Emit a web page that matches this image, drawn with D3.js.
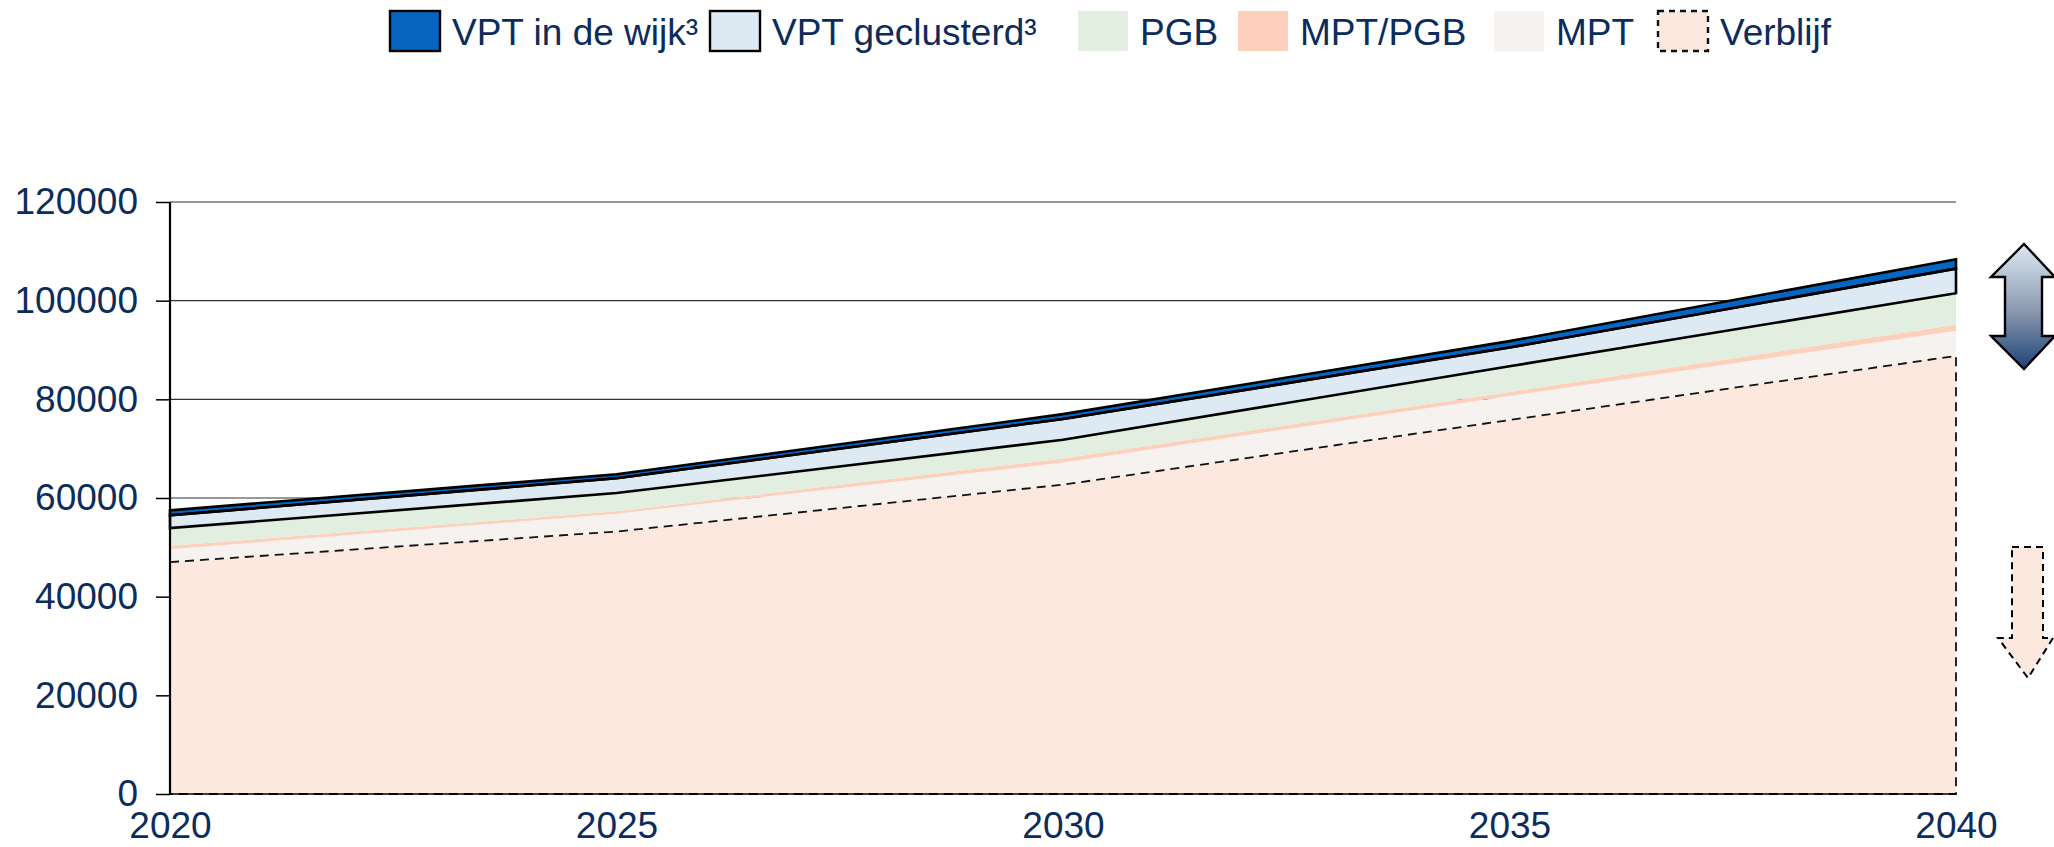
<!doctype html>
<meta charset="utf-8">

<style>
 body { margin: 0; background: #fff; }
 svg text {
     font-family: "Liberation Sans", Arial, sans-serif;
     font-size: 37px;
     fill: #0c2c5c;
 }
 .grid line {
     stroke: #333;
     stroke-width: 1.2px;
 }
</style>

<svg width="2054" height="847"></svg>

<script src="https://d3js.org/d3.v7.min.js"></script>
<script>
 // Data, one value per year
 var years = [2020, 2025, 2030, 2035, 2040];
 var verblijf      = [47000, 53200, 62700, 75800, 88800];
 var mpt           = [2600, 3600, 4500, 4900, 5100];
 var mptPgb        = [700, 500, 800, 800, 1200];
 var pgb           = [3600, 3700, 3800, 5200, 6400];
 var vptGeclusterd = [2600, 3000, 4200, 3800, 5000];
 var vptWijk       = [1000, 800, 1000, 1300, 1900];
 var yTicks = [0, 20000, 40000, 60000, 80000, 100000, 120000];

 var series = [
   {key: 'Verblijf', label: 'Verblijf', values: verblijf, fill: '#fce8df', stroke: '#111', dash: '9,6', width: 1.8},
   {key: 'MPT', label: 'MPT', values: mpt, fill: '#f6f2ef'},
   {key: 'MPT/PGB', label: 'MPT/PGB', values: mptPgb, fill: '#fcd0bb'},
   {key: 'PGB', label: 'PGB', values: pgb, fill: '#e2eee0'},
   {key: 'VPT geclusterd', label: 'VPT geclusterd\u00b3', values: vptGeclusterd, fill: '#dde9f3', stroke: '#000', width: 2.6},
   {key: 'VPT in de wijk', label: 'VPT in de wijk\u00b3', values: vptWijk, fill: '#0565c0', stroke: '#000', width: 2.6}
 ];

 var table = years.map(function(y, i) {
   var row = {year: y};
   series.forEach(function(s) { row[s.key] = s.values[i]; });
   return row;
 });

 var svg = d3.select('svg');
 var x = d3.scaleLinear().domain([2020, 2040]).range([170, 1956]);
 var y = d3.scaleLinear().domain([0, 120000]).range([794, 202]);

 var stacked = d3.stack().keys(series.map(function(s) { return s.key; }))(table);

 var area = d3.area()
   .x(function(d) { return x(d.data.year); })
   .y0(function(d) { return y(d[0]); })
   .y1(function(d) { return y(d[1]); });

 // gridlines
 svg.append('g').attr('class', 'grid')
   .selectAll('line').data(yTicks.filter(function(t) { return t > 0; }))
   .join('line')
   .attr('x1', x(2020)).attr('x2', x(2040))
   .attr('y1', function(d) { return y(d); }).attr('y2', function(d) { return y(d); });

 // fills
 svg.append('g').selectAll('path').data(stacked).join('path')
   .attr('d', area)
   .attr('fill', function(d, i) { return series[i].fill; });

 // outlines on top
 svg.append('g').selectAll('path')
   .data(stacked.filter(function(d, i) { return series[i].stroke; }))
   .join('path')
   .attr('d', function(d) { return area(d) + 'Z'; })
   .attr('fill', 'none')
   .attr('stroke', function(d) { return series[d.index].stroke; })
   .attr('stroke-width', function(d) { return series[d.index].width; })
   .attr('stroke-dasharray', function(d) { return series[d.index].dash || null; })
   .attr('stroke-linejoin', 'miter');

 // axes
 var yAxis = svg.append('g').attr('transform', 'translate(170,0)')
   .call(d3.axisLeft(y).tickValues(yTicks).tickFormat(d3.format('d')).tickSize(14).tickPadding(18));
 yAxis.select('.domain').remove();
 yAxis.selectAll('.tick line').attr('stroke', '#000').attr('stroke-width', 1.5);
 yAxis.selectAll('text').attr('fill', '#0c2c5c');

 var xAxis = svg.append('g').attr('transform', 'translate(0,794)')
   .call(d3.axisBottom(x).tickValues(years).tickFormat(d3.format('d')).tickSize(0).tickPadding(18));
 xAxis.select('.domain').remove();
 xAxis.selectAll('text').attr('fill', '#0c2c5c');

 svg.append('line').attr('x1', 170).attr('x2', 170).attr('y1', 202).attr('y2', 795)
   .attr('stroke', '#000').attr('stroke-width', 2.2);
 svg.append('line').attr('x1', 169).attr('x2', 1956).attr('y1', 794).attr('y2', 794)
   .attr('stroke', '#000').attr('stroke-width', 1.5);

 // legend (swatch positions as in the reference layout)
 var legendOrder = series.slice().reverse();
 var legendX = [389, 709, 1077, 1237, 1493, 1657];
 var legend = svg.append('g');
 legendOrder.forEach(function(s, i) {
   var lx = legendX[i];
   legend.append('rect')
     .attr('x', lx + 1).attr('y', 11).attr('width', 50).attr('height', 40)
     .attr('fill', s.fill)
     .attr('stroke', s.stroke || 'none')
     .attr('stroke-width', s.stroke ? 2.4 : 0)
     .attr('stroke-dasharray', s.dash ? '6,5' : null);
   legend.append('text')
     .attr('x', lx + 63).attr('y', 45)
     .text(s.label);
 });

 // side arrows
 var defs = svg.append('defs');
 var grad = defs.append('linearGradient').attr('id', 'arrowGrad')
   .attr('x1', 0).attr('x2', 0).attr('y1', 0).attr('y2', 1);
 grad.append('stop').attr('offset', '0%').attr('stop-color', '#dde9f3');
 grad.append('stop').attr('offset', '55%').attr('stop-color', '#8796ae');
 grad.append('stop').attr('offset', '100%').attr('stop-color', '#1d4377');

 var cx = 2024;
 svg.append('path')
   .attr('d', 'M' + cx + ',244 L' + (cx + 31) + ',277 L' + (cx + 18) + ',277 L' + (cx + 18) + ',336 L' +
     (cx + 31) + ',336 L' + cx + ',369 L' + (cx - 33) + ',336 L' + (cx - 19) + ',336 L' + (cx - 19) + ',277 L' +
     (cx - 33) + ',277 Z')
   .attr('fill', 'url(#arrowGrad)').attr('stroke', '#000').attr('stroke-width', 2.4);

 var dx = 2028;
 svg.append('path')
   .attr('d', 'M' + (dx - 16) + ',547 L' + (dx + 15) + ',547 L' + (dx + 15) + ',638 L' + (dx + 25) + ',638 L' +
     dx + ',678 L' + (dx - 30) + ',638 L' + (dx - 16) + ',638 Z')
   .attr('fill', '#fce8df').attr('stroke', '#000').attr('stroke-width', 2).attr('stroke-dasharray', '7,5');
</script>
